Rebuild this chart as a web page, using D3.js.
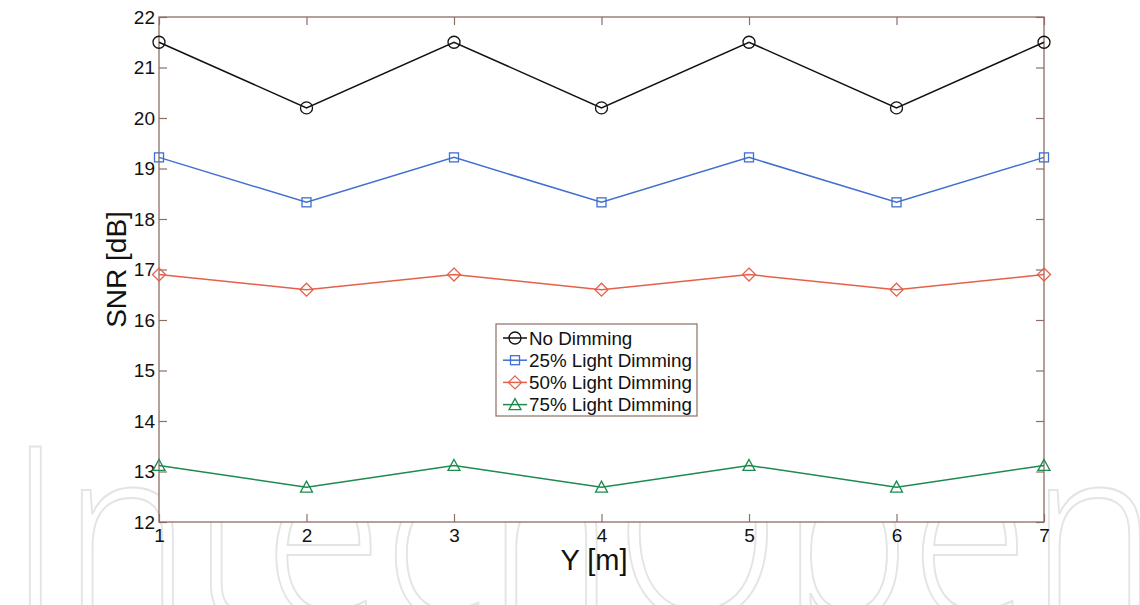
<!DOCTYPE html>
<html>
<head>
<meta charset="utf-8">
<script src="https://cdn.jsdelivr.net/npm/d3@7"></script>
<style>
  html, body { margin: 0; padding: 0; background: #fff; }
  svg { display: block; font-family: "Liberation Sans", Arial, sans-serif; }
</style>
</head>
<body>
<svg id="chart" width="1140" height="605"></svg>
<script>
// Receiver position along Y and the SNR measured for each dimming level
const positions = [1, 2, 3, 4, 5, 6, 7];
const snrNoDimming = [21.5, 20.2, 21.5, 20.2, 21.5, 20.2, 21.5];
const snrDim25 = [19.22, 18.33, 19.22, 18.33, 19.22, 18.33, 19.22];
const snrDim50 = [16.9, 16.6, 16.9, 16.6, 16.9, 16.6, 16.9];
const snrDim75 = [13.12, 12.69, 13.12, 12.69, 13.12, 12.69, 13.12];
const seriesNames = ["No Dimming", "25% Light Dimming", "50% Light Dimming", "75% Light Dimming"];
const xTicks = [1, 2, 3, 4, 5, 6, 7];
const yTicks = [12, 13, 14, 15, 16, 17, 18, 19, 20, 21, 22];

const series = [
  { name: seriesNames[0], values: snrNoDimming, color: "#111111", marker: "circle" },
  { name: seriesNames[1], values: snrDim25, color: "#3f6fd1", marker: "square" },
  { name: seriesNames[2], values: snrDim50, color: "#e5604a", marker: "diamond" },
  { name: seriesNames[3], values: snrDim75, color: "#1d8a4e", marker: "triangle" }
];

const svg = d3.select("#chart");
const margin = { left: 159, right: 1044, top: 17, bottom: 522 };
const axisColor = "#8c6e64";

// faint publisher mark behind the figure
svg.append("text")
  .attr("x", 8).attr("y", 618)
  .attr("font-family", "'Open Sans', sans-serif")
  .attr("font-weight", 300)
  .attr("font-size", 240)
  .attr("textLength", 1150)
  .attr("lengthAdjust", "spacingAndGlyphs")
  .attr("fill", "#ffffff")
  .attr("stroke", "#e4e4e4")
  .attr("stroke-width", 2)
  .text("IntechOpen");

const x = d3.scaleLinear().domain([1, 7]).range([margin.left, margin.right]);
const y = d3.scaleLinear().domain([12, 22]).range([margin.bottom, margin.top]);

// plot background
svg.append("rect")
  .attr("x", margin.left).attr("y", margin.top)
  .attr("width", margin.right - margin.left)
  .attr("height", margin.bottom - margin.top)
  .attr("fill", "#fff");

function styleAxis(g, labels) {
  g.select(".domain").remove();
  g.selectAll(".tick line").attr("stroke", axisColor).attr("stroke-width", 1.2);
  g.selectAll(".tick text")
    .attr("fill", "#111")
    .attr("font-size", 19)
    .attr("font-family", "'Liberation Sans', Arial, sans-serif");
  if (!labels) g.selectAll(".tick text").remove();
}

const tickLen = 8;
svg.append("g").attr("transform", `translate(0,${margin.bottom})`)
  .call(d3.axisBottom(x).tickValues(xTicks).tickFormat(d3.format("d")).tickSizeInner(-tickLen).tickSizeOuter(0).tickPadding(7))
  .call(g => styleAxis(g, true));
svg.append("g").attr("transform", `translate(0,${margin.top})`)
  .call(d3.axisTop(x).tickValues(xTicks).tickSizeInner(-tickLen).tickSizeOuter(0))
  .call(g => styleAxis(g, false));
svg.append("g").attr("transform", `translate(${margin.left},0)`)
  .call(d3.axisLeft(y).tickValues(yTicks).tickFormat(d3.format("d")).tickSizeInner(-tickLen).tickSizeOuter(0).tickPadding(4))
  .call(g => styleAxis(g, true));
svg.append("g").attr("transform", `translate(${margin.right},0)`)
  .call(d3.axisRight(y).tickValues(yTicks).tickSizeInner(-tickLen).tickSizeOuter(0))
  .call(g => styleAxis(g, false));

// frame
svg.append("rect")
  .attr("x", margin.left).attr("y", margin.top)
  .attr("width", margin.right - margin.left)
  .attr("height", margin.bottom - margin.top)
  .attr("fill", "none")
  .attr("stroke", axisColor)
  .attr("stroke-width", 1.3);

function drawMarker(sel, type, color) {
  if (type === "circle") {
    sel.append("circle").attr("r", 6);
  } else if (type === "square") {
    sel.append("rect").attr("x", -4.5).attr("y", -4.5).attr("width", 9).attr("height", 9);
  } else if (type === "diamond") {
    sel.append("path").attr("d", "M0,-6.5L6.5,0L0,6.5L-6.5,0Z");
  } else {
    sel.append("path").attr("d", "M0,-6L6,5L-6,5Z");
  }
  sel.selectAll("circle,rect,path").attr("fill", "none").attr("stroke", color).attr("stroke-width", 1.3);
}

const line = d3.line().x((d, i) => x(positions[i])).y(d => y(d));

series.forEach(s => {
  svg.append("path")
    .datum(s.values)
    .attr("d", line)
    .attr("fill", "none")
    .attr("stroke", s.color)
    .attr("stroke-width", 1.5);
  svg.append("g").selectAll("g")
    .data(s.values)
    .join("g")
    .attr("transform", (d, i) => `translate(${x(positions[i])},${y(d)})`)
    .each(function () { drawMarker(d3.select(this), s.marker, s.color); });
});

// axis titles
svg.append("text")
  .attr("x", 594).attr("y", 570)
  .attr("text-anchor", "middle")
  .attr("font-size", 29)
  .attr("fill", "#111")
  .text("Y [m]");
svg.append("text")
  .attr("transform", `translate(126,${(margin.top + margin.bottom) / 2}) rotate(-90)`)
  .attr("text-anchor", "middle")
  .attr("font-size", 28)
  .attr("fill", "#111")
  .text("SNR [dB]");

// legend
const legend = svg.append("g").attr("transform", "translate(496,324)");
legend.append("rect")
  .attr("width", 201).attr("height", 92)
  .attr("fill", "#fff")
  .attr("stroke", axisColor)
  .attr("stroke-width", 1.2);
series.forEach((s, i) => {
  const row = legend.append("g").attr("transform", `translate(0,${14 + i * 22.2})`);
  row.append("line").attr("x1", 7).attr("x2", 31).attr("stroke", s.color).attr("stroke-width", 1.5);
  drawMarker(row.append("g").attr("transform", "translate(19,0)"), s.marker, s.color);
  row.append("text")
    .attr("x", 33).attr("y", 6.5)
    .attr("font-size", 18.8)
    .attr("fill", "#111")
    .text(s.name);
});
</script>
</body>
</html>
